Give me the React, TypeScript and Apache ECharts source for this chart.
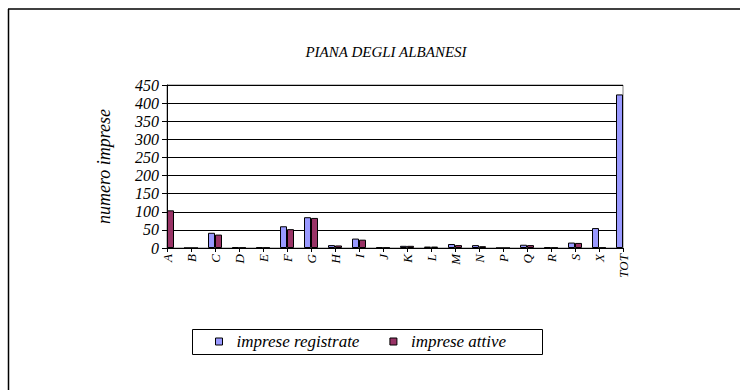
import React, { useEffect, useRef } from "react";
import * as echarts from "echarts";

const categories = ["A", "B", "C", "D", "E", "F", "G", "H", "I", "J", "K", "L", "M", "N", "P", "Q", "R", "S", "X", "TOT"];
// A (registrate) and TOT (attive) fall outside the plot in the reference and cannot be read
const registrate = [null, 0, 42, 2, 2, 60, 85, 8, 26, 2, 6, 4, 11, 8, 0, 9, 2, 15, 55, 424];
const attive = [104, 0, 37, 1, 1, 52, 83, 7, 23, 1, 6, 4, 8, 5, 0, 8, 1, 14, 1, null];
const yTicks = { min: 0, max: 450, interval: 50 };

const FONT = "'Liberation Serif', 'Times New Roman', Times, serif";

export default function App() {
  const ref = useRef<HTMLDivElement>(null);
  useEffect(() => {
    if (!ref.current) return;
    const chart = echarts.init(ref.current, null, { renderer: "svg" });
    chart.setOption({
      animation: false,
      backgroundColor: "#fff",
      textStyle: { fontFamily: FONT, fontStyle: "italic" },
      title: {
        text: "PIANA DEGLI ALBANESI",
        left: 381,
        textAlign: "center",
        top: 39,
        textStyle: { fontFamily: FONT, fontStyle: "italic", fontWeight: "normal", fontSize: 15, color: "#000" },
      },
      grid: {
        left: 167,
        right: 117,
        top: 85,
        bottom: 142,
        show: true,
        borderColor: "#808080",
        borderWidth: 1,
        backgroundColor: "transparent",
      },
      legend: {
        left: 215,
        top: 333,
        itemWidth: 7,
        itemHeight: 7,
        itemGap: 30,
        padding: 0,
        textStyle: { fontFamily: FONT, fontStyle: "italic", fontSize: 17, color: "#000", padding: [0, 0, 0, 9] },
        data: [
          { name: "imprese registrate", icon: "rect", itemStyle: { color: "#9999FF", borderColor: "#000", borderWidth: 1 } },
          { name: "imprese attive", icon: "rect", itemStyle: { color: "#993366", borderColor: "#000", borderWidth: 1 } },
        ],
      },
      xAxis: {
        type: "category",
        data: categories,
        boundaryGap: false,
        axisLine: { lineStyle: { color: "#000", width: 1 } },
        axisTick: { show: true, length: 4, lineStyle: { color: "#000" } },
        axisLabel: {
          rotate: 90,
          interval: 0,
          margin: 6,
          fontFamily: FONT,
          fontStyle: "italic",
          fontSize: 13,
          color: "#000",
        },
        splitLine: { show: false },
      },
      yAxis: {
        type: "value",
        min: yTicks.min,
        max: yTicks.max,
        interval: yTicks.interval,
        name: "numero imprese",
        nameLocation: "middle",
        nameGap: 54,
        nameRotate: 90,
        nameTextStyle: { fontFamily: FONT, fontStyle: "italic", fontSize: 18, color: "#000" },
        axisLine: { show: true, lineStyle: { color: "#000", width: 1 } },
        axisTick: { show: true, length: 5, lineStyle: { color: "#000" } },
        axisLabel: { fontFamily: FONT, fontStyle: "italic", fontSize: 16, color: "#000", margin: 8 },
        splitLine: { show: true, lineStyle: { color: "#000", width: 1 } },
      },
      series: [
        {
          name: "imprese registrate",
          type: "bar",
          data: registrate,
          barWidth: 7,
          barGap: "0%",
          itemStyle: { color: "#9999FF", borderColor: "#000", borderWidth: 1 },
        },
        {
          name: "imprese attive",
          type: "bar",
          data: attive,
          barWidth: 7,
          barGap: "0%",
          itemStyle: { color: "#993366", borderColor: "#000", borderWidth: 1 },
        },
      ],
      graphic: [
        { type: "line", shape: { x1: 8, y1: 9, x2: 740, y2: 9 }, style: { stroke: "#000", lineWidth: 1.5 } },
        { type: "line", shape: { x1: 8.5, y1: 9, x2: 8.5, y2: 390 }, style: { stroke: "#000", lineWidth: 1.5 } },
        { type: "rect", shape: { x: 192.5, y: 329.5, width: 350, height: 25 }, style: { fill: "none", stroke: "#000", lineWidth: 1 } },
      ],
    });
    return () => chart.dispose();
  }, []);
  return <div ref={ref} style={{ width: 740, height: 390, position: "absolute", left: 0, top: 0 }} />;
}
